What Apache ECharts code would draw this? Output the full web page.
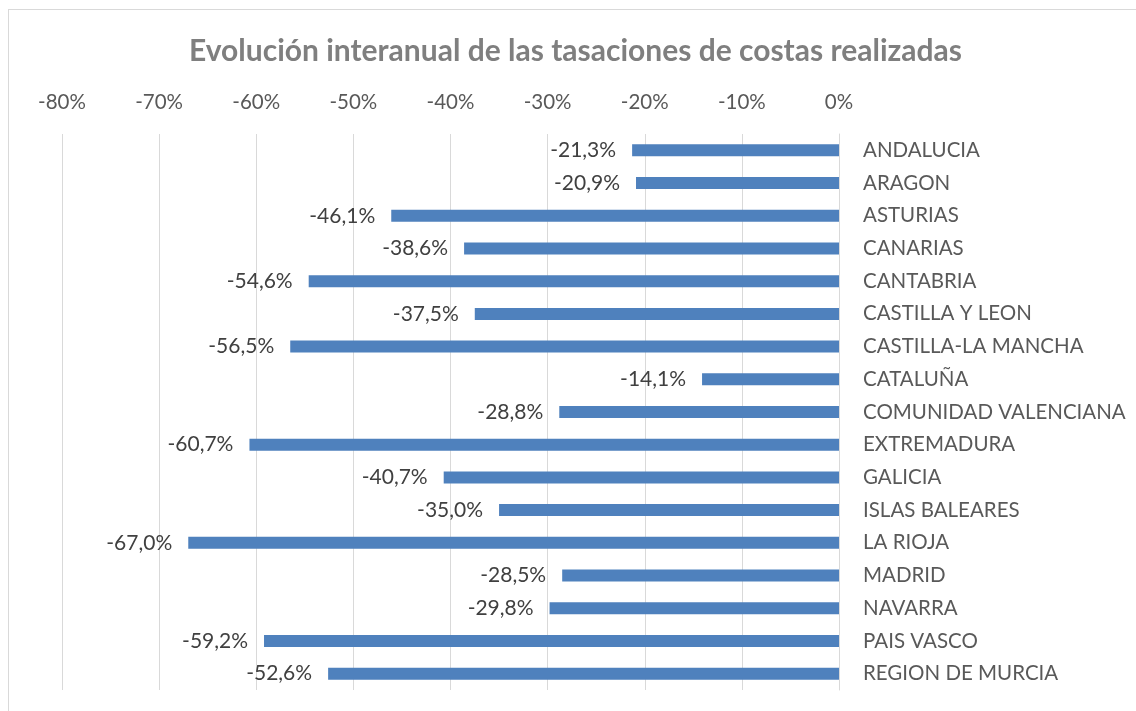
<!DOCTYPE html>
<html>
<head>
<meta charset="utf-8">
<script src="https://cdn.jsdelivr.net/npm/echarts@6/dist/echarts.min.js"></script>
<style>
  html, body { margin: 0; padding: 0; background: #fff; }
  #frame { position: absolute; left: 8px; top: 9px; width: 1140px; height: 720px; border: 1px solid #d9d9d9; }
  #chart { position: absolute; left: 0; top: 0; width: 1136px; height: 711px; }
</style>
</head>
<body>
<div id="frame"></div>
<div id="chart"></div>
<script>
// comunidades autónomas
const regions = [
  'ANDALUCIA', 'ARAGON', 'ASTURIAS', 'CANARIAS', 'CANTABRIA', 'CASTILLA Y LEON',
  'CASTILLA-LA MANCHA', 'CATALUÑA', 'COMUNIDAD VALENCIANA', 'EXTREMADURA', 'GALICIA',
  'ISLAS BALEARES', 'LA RIOJA', 'MADRID', 'NAVARRA', 'PAIS VASCO', 'REGION DE MURCIA'
]

// variación interanual (%)
const variation = [
  -21.3, -20.9, -46.1, -38.6, -54.6, -37.5, -56.5, -14.1, -28.8,
  -60.7, -40.7, -35.0, -67.0, -28.5, -29.8, -59.2, -52.6
]

const font = 'Lato, "Open Sans", sans-serif'

const chart = echarts.init(document.getElementById('chart'))
chart.setOption({
  animation: false,
  title: {
    text: 'Evolución interanual de las tasaciones de costas realizadas',
    left: 184,
    top: 31,
    textStyle: { fontFamily: font, fontSize: 30, fontWeight: 'bold', color: '#7f7f7f' }
  },
  grid: { left: 62, right: 297, top: 134, bottom: 21 },
  xAxis: {
    type: 'value',
    position: 'top',
    min: -80,
    max: 0,
    interval: 10,
    axisLine: { show: false },
    axisTick: { show: false },
    splitLine: { lineStyle: { color: '#d9d9d9', width: 1 } },
    axisLabel: {
      margin: 21,
      fontFamily: font,
      fontSize: 20.5,
      color: '#595959',
      formatter: v => v + '%'
    }
  },
  yAxis: {
    type: 'category',
    data: regions,
    inverse: true,
    position: 'right',
    axisLine: { show: true, lineStyle: { color: '#d9d9d9', width: 1 } },
    axisTick: { show: false },
    axisLabel: {
      margin: 24,
      fontFamily: font,
      fontSize: 20.5,
      color: '#595959'
    }
  },
  series: [{
    type: 'bar',
    data: variation,
    barWidth: 12,
    itemStyle: { color: '#4f81bd' },
    label: {
      show: true,
      position: 'left',
      distance: 16,
      fontFamily: font,
      fontSize: 21,
      color: '#404040',
      formatter: p => p.value.toFixed(1).replace('.', ',') + '%'
    }
  }]
})
</script>
</body>
</html>
